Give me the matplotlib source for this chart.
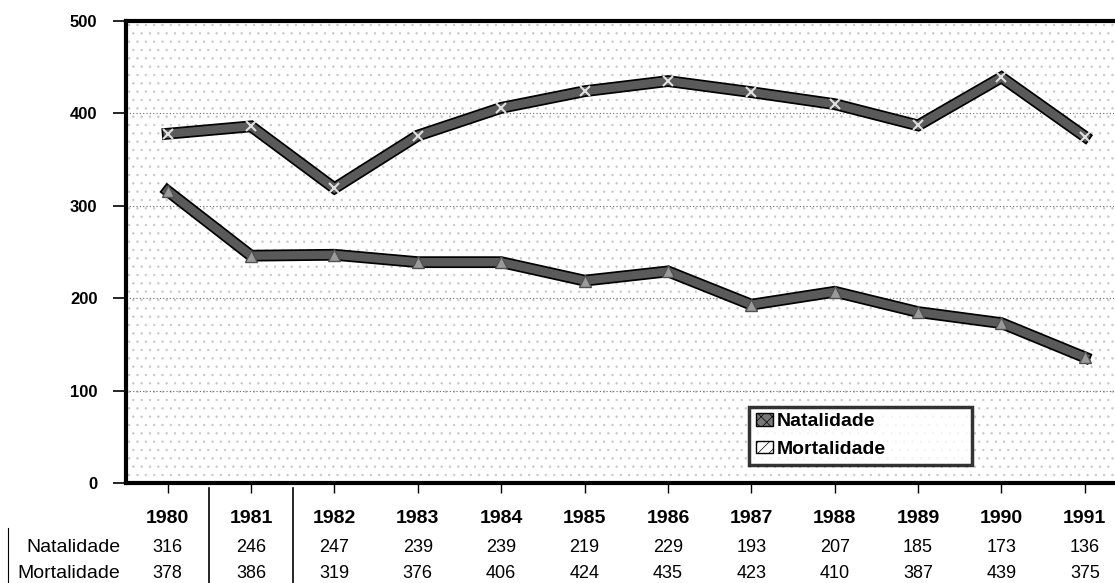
import matplotlib

matplotlib.use("Agg")
import matplotlib.pyplot as plt
import matplotlib.patheffects as pe
from matplotlib.patches import Patch, Rectangle

years = ["1980", "1981", "1982", "1983", "1984", "1985", "1986", "1987", "1988", "1989", "1990", "1991"]
natalidade = [316, 246, 247, 239, 239, 219, 229, 193, 207, 185, 173, 136]
mortalidade = [378, 386, 319, 376, 406, 424, 435, 423, 410, 387, 439, 375]
yticks = [0, 100, 200, 300, 400, 500]

plt.rcParams["font.family"] = ["Liberation Sans", "DejaVu Sans"]
plt.rcParams["hatch.linewidth"] = 0.5

fig = plt.figure(figsize=(11.15, 5.83), dpi=100)
ax = fig.add_axes([126 / 1115, 100 / 583, 988 / 1115, 462 / 583])
x = list(range(len(years)))

# stippled background
ax.add_patch(Rectangle((0, 0), 1, 1, transform=ax.transAxes, facecolor="white",
                       edgecolor="#c8c8c8", hatch="..", lw=0, zorder=0))
for v in yticks[1:-1]:
    ax.axhline(v, color="#666666", lw=0.8, ls=(0, (1, 2)), zorder=1)

stroke = [pe.Stroke(linewidth=8.5, foreground="black"), pe.Normal()]
ax.plot(x, mortalidade, color="#5a5a5a", lw=6, solid_joinstyle="miter",
        path_effects=stroke, zorder=3)
ax.plot(x, natalidade, color="#5a5a5a", lw=6, solid_joinstyle="miter",
        path_effects=stroke, zorder=3)
ax.plot(x, mortalidade, ls="none", marker="x", ms=7, mew=1.5, color="#e0e0e0", zorder=4)
ax.plot(x, natalidade, ls="none", marker="^", ms=8, color="#9a9a9a",
        mec="#505050", zorder=4)

ax.set_xlim(-0.5, 11.35)
ax.set_ylim(0, 500)
ax.set_yticks(yticks)
ax.set_yticklabels([str(v) for v in yticks], fontweight="bold", fontsize=12)
ax.tick_params(axis="y", length=9.5, width=1.2, pad=11)
ax.set_xticks(x)
ax.set_xticklabels([])
ax.tick_params(axis="x", length=7, width=1, direction="out")
for side in ["left", "top", "bottom"]:
    ax.spines[side].set_linewidth(3)
ax.spines["right"].set_visible(False)

handles = [Patch(facecolor="#777777", edgecolor="black", hatch="xxx"),
           Patch(facecolor="white", edgecolor="black", hatch="///")]
leg = ax.legend(handles, ["Natalidade", "Mortalidade"], loc="lower left",
                bbox_to_anchor=(0.6306, 0.039, 0.2257, 0.136), mode="expand",
                frameon=True, fancybox=False,
                prop={"weight": "bold", "size": 14}, handlelength=0.9,
                handleheight=0.6, handletextpad=0.2, borderpad=0.35,
                labelspacing=0.55, borderaxespad=0)
leg.get_frame().set_edgecolor("black")
leg.get_frame().set_linewidth(2.5)
leg.set_zorder(5)

# data table below the axis
tx = ax.get_xaxis_transform()
for i, yr in enumerate(years):
    ax.text(i, -0.077, yr, transform=tx, ha="center", va="center",
            fontweight="bold", fontsize=14, clip_on=False)
    ax.text(i, -0.14, str(natalidade[i]), transform=tx, ha="center", va="center",
            fontsize=13, clip_on=False)
    ax.text(i, -0.196, str(mortalidade[i]), transform=tx, ha="center", va="center",
            fontsize=13, clip_on=False)
fig.text(120 / 1115, 1 - 547 / 583, "Natalidade", ha="right", va="center", fontsize=14)
fig.text(120 / 1115, 1 - 573 / 583, "Mortalidade", ha="right", va="center", fontsize=14)
for xv in [0.5, 1.5]:
    ax.plot([xv, xv], [-0.01, -0.25], transform=tx, color="black", lw=1.2, clip_on=False)
fig.add_artist(plt.Line2D([8 / 1115, 8 / 1115], [1 - 528 / 583, 0],
                          color="black", lw=0.8))

fig.savefig("out.png", dpi=100)
